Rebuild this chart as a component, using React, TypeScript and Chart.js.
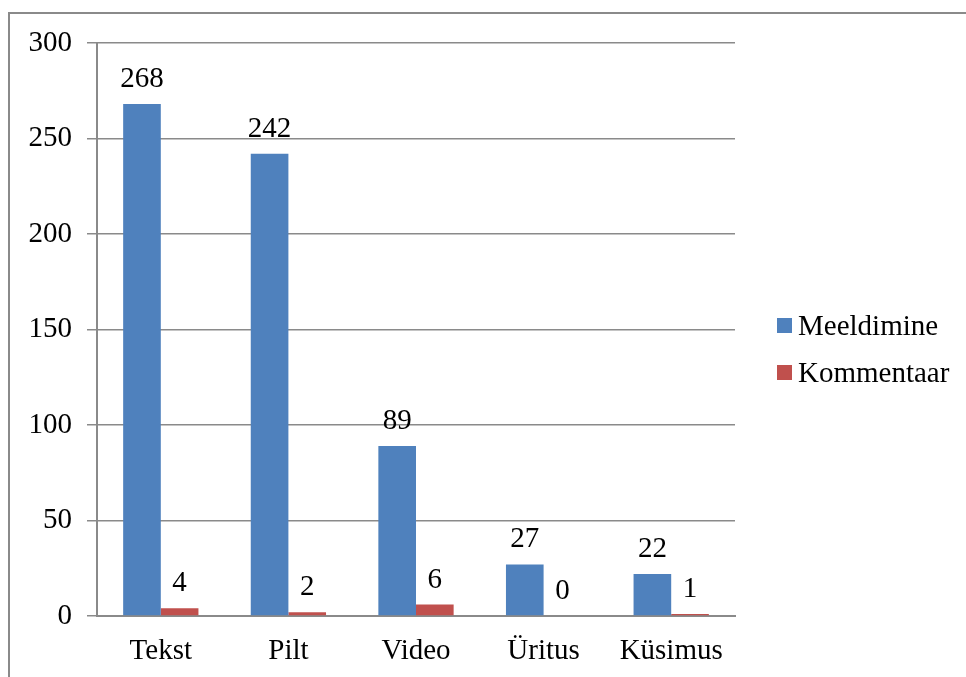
import React, { useEffect, useRef } from "react";
import { Chart, registerables } from "chart.js";

Chart.register(...registerables);

const categories = ["Tekst", "Pilt", "Video", "Üritus", "Küsimus"];
const seriesNames = ["Meeldimine", "Kommentaar"];
const meeldimine = [268, 242, 89, 27, 22];
const kommentaar = [4, 2, 6, 0, 1];
const colors = ["#4F81BD", "#C0504D"];
const yTicks = [0, 50, 100, 150, 200, 250, 300];

const FONT = "'Liberation Serif', 'Times New Roman', serif";
const FSIZE = 29;

const borderPlugin = {
  id: "outerBorder",
  beforeDraw(chart: any) {
    const ctx = chart.ctx;
    ctx.save();
    ctx.strokeStyle = "#8a8a8a";
    ctx.lineWidth = 2;
    ctx.beginPath();
    ctx.moveTo(9, chart.height + 5);
    ctx.lineTo(9, 13);
    ctx.lineTo(chart.width + 5, 13);
    ctx.stroke();
    ctx.restore();
  },
};

const labelsPlugin = {
  id: "valueLabels",
  afterDatasetsDraw(chart: any) {
    const ctx = chart.ctx;
    ctx.save();
    ctx.font = `${FSIZE}px ${FONT}`;
    ctx.fillStyle = "#000";
    ctx.textAlign = "center";
    ctx.textBaseline = "alphabetic";
    chart.data.datasets.forEach((ds: any, i: number) => {
      const meta = chart.getDatasetMeta(i);
      meta.data.forEach((el: any, j: number) => {
        ctx.fillText(String(ds.data[j]), el.x, el.y - 17);
      });
    });
    ctx.restore();
  },
};

const legendPlugin = {
  id: "customLegend",
  afterDraw(chart: any) {
    const ctx = chart.ctx;
    ctx.save();
    ctx.font = `${FSIZE}px ${FONT}`;
    ctx.textAlign = "left";
    ctx.textBaseline = "alphabetic";
    const baseY = [335, 382];
    seriesNames.forEach((name, i) => {
      ctx.fillStyle = colors[i];
      ctx.fillRect(777, baseY[i] - 17, 15, 15);
      ctx.fillStyle = "#000";
      ctx.fillText(name, 798, baseY[i]);
    });
    ctx.restore();
  },
};

export default function App() {
  const ref = useRef<HTMLCanvasElement>(null);
  useEffect(() => {
    document.body.style.overflow = "hidden";
    const chart = new Chart(ref.current!, {
      type: "bar",
      data: {
        labels: categories,
        datasets: [
          { label: seriesNames[0], data: meeldimine, backgroundColor: colors[0] },
          { label: seriesNames[1], data: kommentaar, backgroundColor: colors[1] },
        ],
      },
      options: {
        animation: false,
        responsive: false,
        devicePixelRatio: 1,
        layout: { padding: { top: 43, right: 231, left: 0, bottom: 0 } },
        plugins: { legend: { display: false }, tooltip: { enabled: false } },
        datasets: { bar: { categoryPercentage: 0.59, barPercentage: 1 } },
        scales: {
          x: {
            grid: { display: false, drawTicks: false },
            border: { display: true, color: "#8a8a8a", width: 2 },
            ticks: { font: { family: FONT, size: FSIZE }, color: "#000", padding: 18, maxRotation: 0, autoSkip: false },
            afterFit: (s: any) => { s.height = 61; },
          },
          y: {
            min: 0,
            max: 300,
            afterBuildTicks: (s: any) => { s.ticks = yTicks.map((v) => ({ value: v })); },
            grid: { color: "#8a8a8a", lineWidth: 1.5, tickLength: 10, drawTicks: true },
            border: { display: true, color: "#8a8a8a", width: 2 },
            ticks: { font: { family: FONT, size: FSIZE }, color: "#000", padding: 15 },
            afterFit: (s: any) => { s.width = 97; },
          },
        },
      },
      plugins: [borderPlugin, labelsPlugin, legendPlugin],
    });
    return () => chart.destroy();
  }, []);
  return (
    <canvas
      ref={ref}
      width={966}
      height={677}
      style={{ position: "fixed", left: 0, top: 0, width: 966, height: 677 }}
    />
  );
}
